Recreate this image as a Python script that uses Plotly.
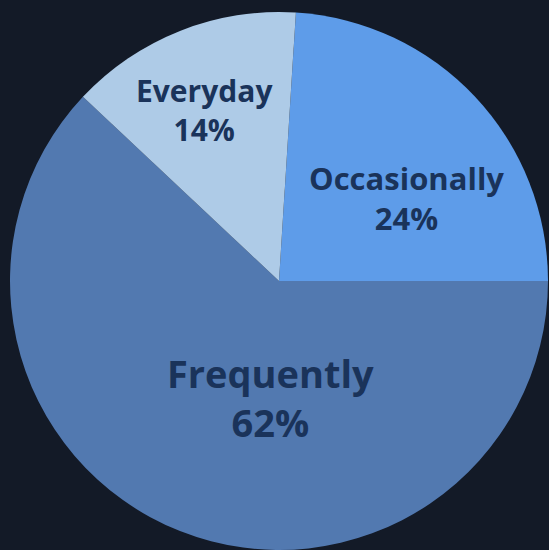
import math
import plotly.graph_objects as go

# Usage frequency breakdown
labels = ["Occasionally", "Frequently", "Everyday"]
values = [24, 62, 14]
colors = ["#5e9ce9", "#5279b0", "#aecbe7"]

# label styling / placement (angle shift in degrees from slice middle, radial fraction)
font_sizes = [31, 38, 30]
label_shift = [10.2, -17.6, -1.8]
label_rho = [0.565, 0.433, 0.694]

W, H = 549, 550
M = dict(l=9, r=0, t=12, b=0)
ROTATION = 3.6

fig = go.Figure(
    go.Pie(
        labels=labels,
        values=values,
        sort=False,
        direction="clockwise",
        rotation=ROTATION,
        marker=dict(colors=colors, line=dict(width=0)),
        textinfo="none",
        hoverinfo="label+percent",
        showlegend=False,
    )
)

# plot-area geometry in pixels
pw = W - M["l"] - M["r"]
ph = H - M["t"] - M["b"]
radius = min(pw, ph) / 2
total = sum(values)

cum = 0.0
for lab, val, fs, shift, rho in zip(labels, values, font_sizes, label_shift, label_rho):
    mid = ROTATION + (cum + val / 2) / total * 360 + shift
    cum += val
    ang = math.radians(mid)
    dx = rho * radius * math.sin(ang)
    dy = rho * radius * math.cos(ang)
    pct = round(val / total * 100)
    fig.add_annotation(
        x=0.5 + dx / pw,
        y=0.5 + dy / ph,
        xref="paper",
        yref="paper",
        xanchor="center",
        yanchor="middle",
        showarrow=False,
        align="center",
        text=f"<b>{lab}</b><br><b>{pct}%</b>",
        font=dict(family="Open Sans", color="#1a335a", size=fs),
    )

fig.update_layout(
    width=W,
    height=H,
    margin=M,
    paper_bgcolor="#131a27",
    plot_bgcolor="#131a27",
)

fig.write_html("out.html")
